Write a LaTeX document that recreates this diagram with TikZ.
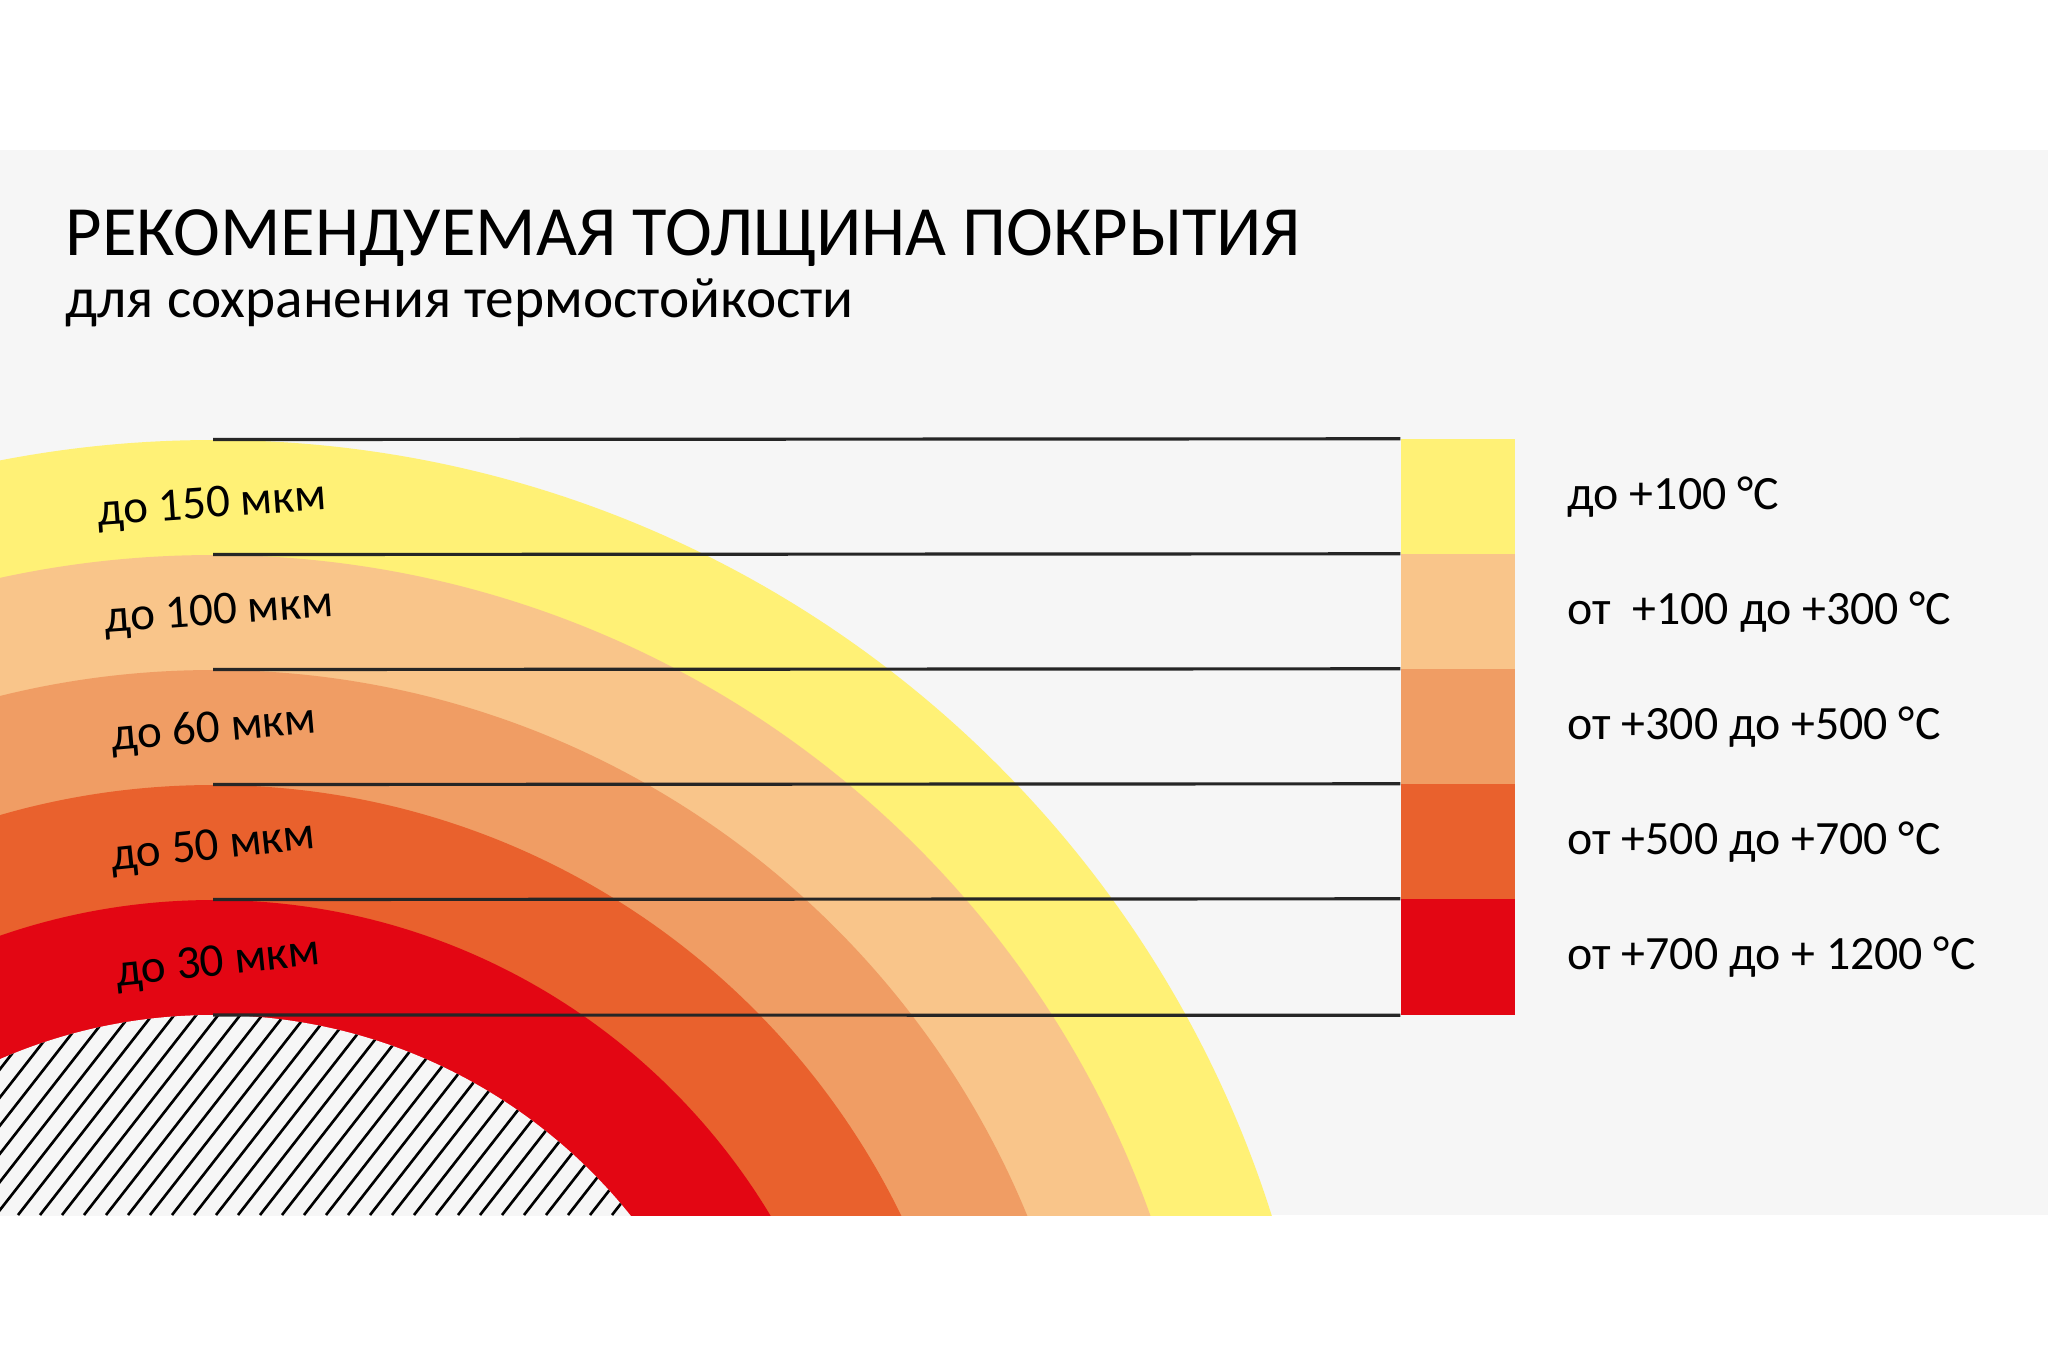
\documentclass[tikz,border=0pt]{standalone}
\usepackage{fontspec}
\setmainfont{Carlito}
\usetikzlibrary{positioning}

\definecolor{panelgray}{HTML}{F6F6F6}
\definecolor{bandyellow}{HTML}{FFF176}
\definecolor{bandpeach}{HTML}{F9C58A}
\definecolor{bandapricot}{HTML}{F09D64}
\definecolor{bandorange}{HTML}{E9612D}
\definecolor{bandred}{HTML}{E30613}

\tikzset{
  rule/.style={line width=0.9pt, black!85},
  hatchline/.style={line width=0.75pt, black},
  legendbox/.style={rectangle, draw=none, inner sep=0pt, minimum width=1.14cm, minimum height=1.15cm},
  legendtext/.style={anchor=west, inner sep=0pt, font=\fontsize{13.6}{16}\selectfont},
  bandlabel/.style={font=\fontsize{13.4}{16}\selectfont}
}

\begin{document}
\begin{tikzpicture}[x=0.01cm, y=-0.01cm]
    \useasboundingbox (0,0) rectangle (2048,1365);
    \fill[white] (0,0) rectangle (2048,1365);
    \fill[panelgray] (0,150) rectangle (2048,1215);

    % title
    \node[anchor=base west, inner sep=0pt, font=\fontsize{20.1}{24}\selectfont] (title) at (65,255) {РЕКОМЕНДУЕМАЯ ТОЛЩИНА ПОКРЫТИЯ};
    \node[anchor=base west, inner sep=0pt, font=\fontsize{16.3}{20}\selectfont] (subtitle) at (65,317) {для сохранения термостойкости};

    % coating layers
    \begin{scope}
        \clip (0,150) rectangle (2048,1215);
        \foreach \r/\c in {1110/bandyellow, 995/bandpeach, 880/bandapricot, 765/bandorange, 650/bandred}
            \fill[\c] (213,1550) circle [radius=\r];
        \fill[panelgray] (213,1550) circle [radius=535];
        \clip (213,1550) circle [radius=535];
        \foreach \i in {0,...,50}
            \draw[hatchline] ({-400+\i*22},1215) -- ++(500,-640);
    \end{scope}

    % legend
    \foreach \n/\c/\y/\txt in {1/bandyellow/497/{до +100 °C}, 2/bandpeach/612/{от~~+100 до +300 °C}, 3/bandapricot/727/{от +300 до +500 °C}, 4/bandorange/842/{от +500 до +700 °C}, 5/bandred/957/{от +700 до + 1200 °C}}
    {
        \node[legendbox, fill=\c] (box\n) at (1458,\y) {};
        \node[legendtext] (temp\n) at (1567,\y) {\txt};
        \coordinate (top\n) at (213,{\y-57.5});
        \draw[rule] (top\n) -- (box\n.north west);
    }
    \coordinate (top6) at (213,1015);
    \draw[rule] (top6) -- (box5.south west);

    % thickness labels
    \node[bandlabel, rotate=4] (t150) at (212,506) {до 150 мкм};
    \node[bandlabel, rotate=4] (t100) at (219,613) {до 100 мкм};
    \node[bandlabel, rotate=5] (t60) at (214,730) {до 60 мкм};
    \node[bandlabel, rotate=6] (t50) at (213,848) {до 50 мкм};
    \node[bandlabel, rotate=6] (t30) at (218,964) {до 30 мкм};
\end{tikzpicture}
\end{document}
